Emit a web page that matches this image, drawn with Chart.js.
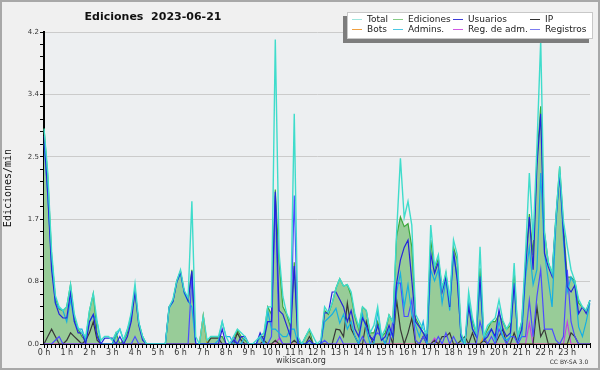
<!DOCTYPE html>
<html><head><meta charset="utf-8">
<script src="https://cdn.jsdelivr.net/npm/chart.js@4"></script>
<style>html,body{margin:0;padding:0;background:#f0f0f0;}canvas{display:block}</style>
</head><body>
<canvas id="c" width="600" height="370"></canvas>
<script>
const hourLabels = ["0 h","1 h","2 h","3 h","4 h","5 h","6 h","7 h","8 h","9 h","10 h","11 h","12 h","13 h","14 h","15 h","16 h","17 h","18 h","19 h","20 h","21 h","22 h","23 h"];
const yTickValues = [0,0.84,1.68,2.52,3.36,4.2];
const yTickLabels = ["0.0","0.8","1.7","2.5","3.4","4.2"];
const seriesNames = ["Total","Ediciones","Usuarios","IP","Bots","Admins.","Reg. de adm.","Registros"];

const total = [
2.9,2.3,1.25,0.65,0.5,0.45,0.5,0.8,0.4,0.22,0.15,0.1,
0.45,0.68,0.3,0.05,0.1,0.1,0.05,0.15,0.2,0.05,0.2,0.42,
0.81,0.29,0.1,0,0,0,0,0,0,0.5,0.6,0.85,
1.0,0.72,0.62,1.92,0.1,0,0.38,0.05,0.1,0.1,0.1,0.3,
0.1,0,0.1,0.2,0.15,0.1,0,0,0.05,0.1,0.15,0.5,
0.5,4.1,1.22,0.64,0.41,0.3,3.1,0.1,0,0.1,0.2,0.1,
0,0.05,0.5,0.42,0.55,0.75,0.88,0.78,0.8,0.7,0.4,0.23,
0.5,0.45,0.15,0.25,0.5,0.1,0.2,0.39,0.3,1.5,2.5,1.7,
1.92,1.6,0.4,0.3,0.2,0.15,1.6,1.04,1.2,0.75,0.97,0.6,
1.4,1.2,0.15,0,0.7,0.35,0.15,1.31,0.1,0.25,0.3,0.35,
0.59,0.32,0.2,0.3,1.09,0.1,0.3,1.22,2.3,1.4,2.65,4.09,
1.5,1.1,0.95,1.7,2.39,1.65,1.31,1.0,0.85,0.6,0.5,0.45,
0.59];
const ediciones = [
2.9,2.25,1.2,0.62,0.47,0.45,0.5,0.8,0.35,0.2,0.1,0.05,
0.45,0.68,0.15,0,0,0,0,0.15,0,0.05,0.15,0.4,
0.72,0.28,0.1,0,0,0,0,0,0,0.5,0.58,0.85,
0.98,0.7,0.6,1.0,0,0,0.38,0,0.1,0.1,0.1,0.1,
0,0,0.05,0.19,0.1,0.05,0,0,0,0.1,0.1,0.5,
0.4,2.08,1.1,0.5,0.4,0.23,1.1,0.05,0,0.1,0.19,0,
0,0,0.45,0.4,0.55,0.75,0.88,0.78,0.8,0.65,0.37,0.2,
0.5,0.45,0.15,0.15,0.3,0.1,0.15,0.39,0.3,1.45,1.71,1.58,
1.62,1.31,0.35,0.25,0.15,0.1,1.4,1.0,1.15,0.75,0.95,0.58,
1.3,1.13,0.12,0,0.55,0.3,0.15,1.02,0.1,0.2,0.3,0.3,
0.4,0.3,0.2,0.25,1.0,0.1,0.3,1.1,1.75,1.2,2.5,3.2,
1.5,1.1,0.95,1.7,2.39,1.6,0.9,0.9,0.85,0.55,0.5,0.45,
0.59];
const usuarios = [
2.8,2.0,1.0,0.55,0.4,0.35,0.35,0.7,0.3,0.15,0.15,0,
0.3,0.4,0.1,0,0.08,0.08,0.08,0,0.1,0,0.1,0.3,
0.7,0.25,0.05,0,0,0,0,0,0,0.5,0.57,0.83,
0.97,0.7,0.58,0.98,0,0,0,0,0,0,0,0.2,
0,0,0.05,0,0.1,0.1,0,0,0,0.15,0.05,0.3,
0.3,2.05,0.45,0.4,0.25,0.1,1.05,0,0,0,0.05,0,
0,0,0.42,0.42,0.7,0.7,0.6,0.5,0.3,0.45,0.2,0.1,
0.35,0.25,0.1,0.05,0.25,0.05,0.1,0.25,0.1,0.82,1.13,1.3,
1.4,0.86,0.3,0.23,0.15,0.05,1.22,0.95,1.1,0.7,0.9,0.5,
1.25,0.85,0.1,0,0.5,0.2,0.1,0.91,0.05,0.1,0.2,0.1,
0.46,0.2,0.1,0.15,0.82,0.05,0.2,1.0,1.71,1.0,2.4,3.1,
1.22,1.04,0.91,1.67,2.3,1.5,0.77,0.7,0.79,0.41,0.5,0.41,
0.59];
const ip = [
0,0.1,0.2,0.1,0,0,0.05,0.15,0.1,0.05,0,0.05,
0.15,0.3,0.05,0,0,0,0,0,0,0,0,0,
0,0,0,0,0,0,0,0,0,0,0,0,
0,0,0,0,0,0,0,0,0.08,0.08,0.08,0,
0,0,0,0.15,0.05,0,0,0,0,0,0.05,0,
0,0.05,0,0,0,0,0.05,0,0,0,0.1,0,
0,0,0,0,0,0.2,0.19,0.1,0.55,0.2,0.1,0,
0,0.3,0.1,0,0,0,0,0.15,0,0.59,0.2,0,
0.15,0.35,0,0,0.1,0,0,0.05,0,0.1,0.1,0.15,
0,0,0.05,0.1,0,0.15,0,0,0.05,0,0,0,
0.1,0.2,0,0,0.15,0,0,0,0,0,0.5,0.1,
0.2,0,0,0,0,0,0,0.15,0.1,0,0,0,
0];
const bots = [
0,0,0,0,0,0,0,0,0,0,0,0,
0,0,0,0,0,0,0,0,0,0,0,0,
0,0,0,0,0,0,0,0,0,0,0,0,
0,0,0,0,0,0,0.38,0,0,0,0,0,
0,0,0,0,0,0,0,0,0,0,0,0,
0,0,0,0,0,0,0,0,0,0,0,0,
0,0,0,0,0,0,0,0,0,0,0,0,
0,0,0,0,0,0,0,0,0,0,0,0,
0,0,0,0,0,0,0,0,0,0,0,0,
0,0,0,0,0,0,0,0,0.1,0,0,0,
0,0,0,0,0,0,0,0,0,0,0,0,
0,0,0,0,0,0,0,0,0,0,0,0,
0];
const admins = [
2.7,2.0,1.1,0.55,0.48,0.45,0.3,0.6,0.3,0.2,0.2,0.05,
0.3,0.39,0.3,0,0,0,0,0.1,0.2,0.05,0.2,0.35,
0.75,0.29,0.1,0,0,0,0,0,0,0.48,0.57,0.83,
0.95,0.68,0.58,0.5,0,0,0,0,0,0,0.05,0.3,
0.1,0.1,0,0,0,0.1,0,0,0,0.1,0,0.45,
0.2,0.2,0.15,0.1,0.1,0.2,0.2,0,0,0,0,0,
0,0,0.3,0.35,0.4,0.48,0.28,0.4,0.2,0.3,0.1,0,
0.4,0.2,0,0,0.45,0.1,0,0.2,0.1,0.7,0.95,0.5,
0.8,0.4,0.25,0.1,0.3,0,1.0,0.85,1.0,0.55,0.85,0.45,
1.2,0.9,0.05,0,0.6,0.2,0.1,0.8,0.05,0.15,0.2,0.05,
0.3,0.1,0.05,0.1,0.8,0.05,0.1,0.9,1.3,0.8,1.0,2.3,
1.22,0.86,0.5,1.6,2.3,1.4,0.7,0.9,0.8,0.23,0.1,0.3,
0.55];
const regAdm = [
0,0,0,0,0,0,0,0,0,0,0,0,
0,0,0,0,0,0,0,0,0,0,0,0,
0,0,0,0,0,0,0,0,0,0,0,0,
0,0,0,0,0,0,0,0,0,0,0,0,
0,0,0,0,0,0,0,0,0,0,0,0,
0,0,0.08,0,0,0,0,0,0,0,0,0,
0,0,0,0,0,0,0,0,0,0,0,0,
0,0,0,0,0,0,0,0,0,0,0,0,
0,0,0,0,0,0,0,0.08,0,0,0,0,
0,0,0,0,0,0,0,0,0,0,0,0,
0,0,0,0,0,0,0,0,0.28,0,0,0,
0,0,0,0,0,0,0.3,0,0,0,0,0,
0];
const registros = [
0,0,0,0.05,0.1,0,0,0,0,0,0,0,
0,0,0,0,0,0,0,0,0,0,0,0,
0.1,0,0,0,0,0,0,0,0,0,0,0,
0,0,0,0.9,0,0,0,0,0,0,0,0,
0,0,0.1,0,0,0,0,0,0,0,0,0,
0.1,2.0,0.1,0,0,0,2.0,0,0,0,0,0,
0,0,0.05,0,0,0,0.1,0,0,0,0,0,
0.1,0,0,0.1,0.15,0.1,0,0,0.3,0.82,0.82,0.37,
0.37,0.59,0.05,0,0.1,0,0,0,0.1,0,0.15,0,
0.1,0,0,0,0,0,0,0.3,0.1,0,0.1,0,
0.2,0.1,0,0.1,0.1,0,0.1,0.1,0.59,0.1,0.64,1.0,
0.2,0.2,0.2,0.05,0,0.1,1.0,0.3,0.1,0,0,0,
0];

// 10-minute slots over the day (145 boundaries)
const categories = [];
for (let i = 0; i <= 144; i++) {
  const m = i * 10;
  categories.push(String(Math.floor(m / 60)).padStart(2, '0') + ':' + String(m % 60).padStart(2, '0'));
}

// y ticks incl. minor subdivisions
const yAll = [];
for (let k = 0; k < yTickValues.length - 1; k++) {
  const a = yTickValues[k], b = yTickValues[k + 1];
  for (let j = 0; j < 5; j++) yAll.push(a + (b - a) * j / 5);
}
yAll.push(yTickValues[yTickValues.length - 1]);
function majorIdx(v) { return yTickValues.findIndex(t => Math.abs(t - v) < 1e-6); }

const colors = {
  total: '#3fdccb', ediciones: '#3ca83c', usuarios: '#2424dc', ip: '#383838',
  bots: '#f0961e', admins: '#16b0e2', regAdm: '#c444e0', registros: '#4c4cff'
};
const legendColors = ['#9fe6de','#86cc86','#3c3cd8','#333333','#f0a040','#4cc8e4','#d058e4','#7c7cf0'];

function ds(label, data, color, order, extra) {
  return Object.assign({ label, data, borderColor: color, borderWidth: 1.2, pointRadius: 0, fill: false, tension: 0, order }, extra || {});
}

const chartDecor = {
  id: 'decor',
  beforeDraw(chart) {
    const ctx = chart.ctx, a = chart.chartArea;
    ctx.save();
    ctx.fillStyle = '#f0f0f0';
    ctx.fillRect(0, 0, 600, 370);
    ctx.strokeStyle = '#a8a8a8';
    ctx.lineWidth = 2;
    ctx.strokeRect(1, 1, 598, 368);
    ctx.fillStyle = '#edeff1';
    ctx.fillRect(a.left, a.top, a.right - a.left, a.bottom - a.top);
    ctx.restore();
  },
  afterDraw(chart) {
    const ctx = chart.ctx;
    ctx.save();
    // title
    ctx.fillStyle = '#111';
    ctx.font = 'bold 11px "DejaVu Sans"';
    ctx.textAlign = 'center';
    ctx.textBaseline = 'middle';
    ctx.fillText('Ediciones  2023-06-21', 153, 17);
    // footer
    ctx.fillStyle = '#333';
    ctx.font = '8px "DejaVu Sans"';
    ctx.fillText('wikiscan.org', 301, 361);
    ctx.font = '6px "DejaVu Sans"';
    ctx.fillText('CC BY-SA 3.0', 569, 362);
    // legend box
    ctx.fillStyle = '#7d7d7d';
    ctx.fillRect(343, 16, 246, 27);
    ctx.fillStyle = '#ffffff';
    ctx.fillRect(347, 12, 246, 27);
    ctx.strokeStyle = '#c8c8c8';
    ctx.lineWidth = 1;
    ctx.strokeRect(347.5, 12.5, 245, 26);
    const cols = [352, 393, 453, 530];
    const rows = [19, 29];
    ctx.font = '9px "DejaVu Sans"';
    ctx.textAlign = 'left';
    seriesNames.forEach((name, k) => {
      const cx = cols[k % 4], cy = rows[Math.floor(k / 4)];
      ctx.strokeStyle = legendColors[k];
      ctx.beginPath();
      ctx.moveTo(cx, cy + 0.5);
      ctx.lineTo(cx + 10, cy + 0.5);
      ctx.stroke();
      ctx.fillStyle = '#222';
      ctx.fillText(name, cx + 15, cy + 0.5);
    });
    ctx.restore();
  }
};

new Chart(document.getElementById('c'), {
  type: 'line',
  data: {
    labels: categories,
    datasets: [
      ds(seriesNames[0], total, colors.total, 1, { borderWidth: 1.4 }),
      ds(seriesNames[2], usuarios, colors.usuarios, 2),
      ds(seriesNames[5], admins, colors.admins, 3),
      ds(seriesNames[7], registros, colors.registros, 4),
      ds(seriesNames[3], ip, colors.ip, 5),
      ds(seriesNames[6], regAdm, colors.regAdm, 6),
      ds(seriesNames[4], bots, colors.bots, 7),
      ds(seriesNames[1], ediciones, colors.ediciones, 8, { fill: 'origin', backgroundColor: '#98cc98' })
    ]
  },
  options: {
    responsive: false,
    animation: false,
    devicePixelRatio: 1,
    layout: { padding: { left: 2, right: 10, top: 32, bottom: 4 } },
    plugins: { legend: { display: false }, tooltip: { enabled: false }, title: { display: false } },
    elements: { point: { radius: 0 }, line: { tension: 0 } },
    scales: {
      x: {
        type: 'category',
        offset: false,
        grid: { display: true, drawOnChartArea: false, drawTicks: true, tickLength: 4, tickColor: '#000', offset: false },
        border: { color: '#000', width: 2 },
        ticks: {
          autoSkip: false, maxRotation: 0, minRotation: 0, padding: 0,
          font: { family: 'DejaVu Sans', size: 8 }, color: '#333',
          callback: (v, i) => (i % 6 === 0 && i < 144) ? hourLabels[i / 6] : ''
        },
        afterFit: s => { s.height = 22; }
      },
      y: {
        type: 'linear', min: 0, max: 4.2,
        afterBuildTicks: s => { s.ticks = yAll.map(v => ({ value: v })); },
        grid: {
          color: c => (c.tick && majorIdx(c.tick.value) >= 0) ? '#cbcbcb' : 'rgba(0,0,0,0)',
          tickColor: '#000', tickLength: 4, lineWidth: 1
        },
        border: { color: '#000', width: 2 },
        ticks: {
          padding: 1, font: { family: 'DejaVu Sans', size: 7 }, color: '#333',
          callback: v => { const k = majorIdx(v); return k >= 0 ? yTickLabels[k] : ''; }
        },
        title: { display: true, text: 'Ediciones/min', font: { family: 'DejaVu Sans Mono', size: 10 }, color: '#111', padding: 0 },
        afterFit: s => { s.width = 42; }
      }
    }
  },
  plugins: [chartDecor]
});
</script>
</body></html>
